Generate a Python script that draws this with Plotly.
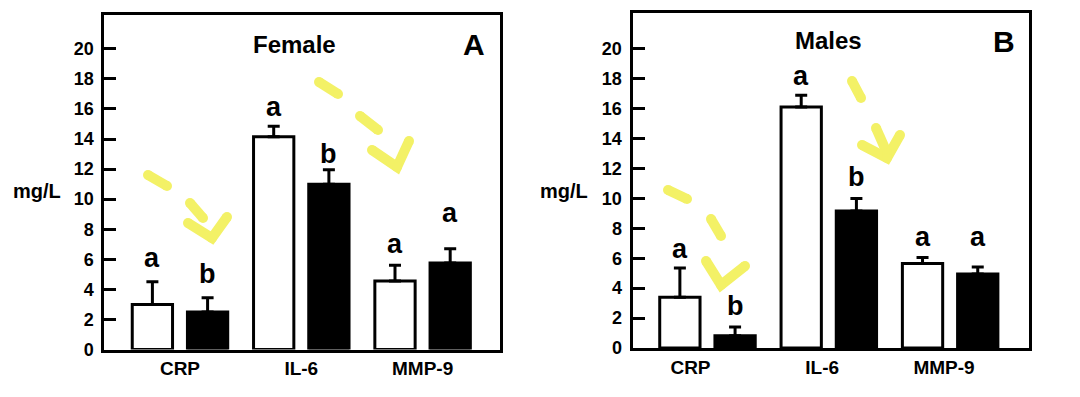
import plotly.graph_objects as go

# ---------------- data ----------------
categories = ["CRP", "IL-6", "MMP-9"]
yticks = list(range(0, 21, 2))

female_white = [3.0, 14.15, 4.55]
female_white_err = [1.5, 0.7, 1.05]
female_black = [2.5, 11.0, 5.75]
female_black_err = [0.95, 0.95, 0.95]
female_letters_white = ["a", "a", "a"]
female_letters_black = ["b", "b", "a"]
female_letter_y_white = [6.1, 16.1, 7.0]
female_letter_y_black = [5.0, 13.0, 9.1]

male_white = [3.4, 16.1, 5.65]
male_white_err = [1.95, 0.8, 0.4]
male_black = [0.82, 9.15, 4.95]
male_black_err = [0.58, 0.85, 0.47]
male_letters_white = ["a", "a", "a"]
male_letters_black = ["b", "b", "a"]
male_letter_y_white = [6.6, 18.2, 7.4]
male_letter_y_black = [2.8, 11.4, 7.4]

# hand-drawn yellow highlight strokes (page pixels)
highlight_strokes = [
    [(148, 175), (167, 186)],
    [(190, 203), (203, 218)],
    [(188, 223), (212, 238), (227, 217)],
    [(319, 82), (338, 94)],
    [(360, 116), (378, 130)],
    [(372, 150), (397, 167), (409, 141)],
    [(668, 190), (687, 199)],
    [(711, 219), (721, 236)],
    [(706, 261), (721, 285), (745, 266)],
    [(852, 81), (861, 98)],
    [(876, 128), (887, 153)],
    [(862, 145), (887, 158), (900, 135)],
]

W, H = 1080, 397          # design coordinates (reference pixels)
FIG_H = 407               # rendered height
FONT = "Liberation Sans, Arial, Helvetica, sans-serif"
BARGAP = 0.09
BARGROUPGAP = 0.27
OFF = (1 - BARGAP) / 4  # centre offset of each bar in a pair

fig = go.Figure()

panels = [
    dict(xa="x", ya="y", white=female_white, werr=female_white_err,
         black=female_black, berr=female_black_err,
         lw=female_letters_white, lb=female_letters_black,
         lyw=female_letter_y_white, lyb=female_letter_y_black),
    dict(xa="x2", ya="y2", white=male_white, werr=male_white_err,
         black=male_black, berr=male_black_err,
         lw=male_letters_white, lb=male_letters_black,
         lyw=male_letter_y_white, lyb=male_letter_y_black),
]

xs = list(range(len(categories)))
annotations = []
for p in panels:
    fig.add_trace(go.Bar(
        x=xs, y=p["white"], xaxis=p["xa"], yaxis=p["ya"],
        marker=dict(color="white", line=dict(color="black", width=3)),
        error_y=dict(type="data", symmetric=False, array=p["werr"],
                     arrayminus=[0] * 3, color="black", thickness=3, width=6),
        showlegend=False, hoverinfo="skip"))
    fig.add_trace(go.Bar(
        x=xs, y=p["black"], xaxis=p["xa"], yaxis=p["ya"],
        marker=dict(color="black", line=dict(color="black", width=3)),
        error_y=dict(type="data", symmetric=False, array=p["berr"],
                     arrayminus=[0] * 3, color="black", thickness=3, width=6),
        showlegend=False, hoverinfo="skip"))
    for i in xs:
        for txt, yy, dx in ((p["lw"][i], p["lyw"][i], -OFF), (p["lb"][i], p["lyb"][i], OFF)):
            annotations.append(dict(
                x=i + dx, y=yy, xref=p["xa"], yref=p["ya"], text=txt,
                showarrow=False, xanchor="center", yanchor="middle",
                font=dict(family=FONT, size=27, color="black", weight="bold")))

# highlight strokes on an invisible full-page overlay axis
sx, sy = [], []
for s in highlight_strokes:
    for (a, b) in s:
        sx.append(a)
        sy.append(b)
    sx.append(None)
    sy.append(None)
fig.add_trace(go.Scatter(
    x=sx, y=sy, xaxis="x3", yaxis="y3", mode="lines+markers",
    line=dict(color="#f3f166", width=10),
    marker=dict(color="#f3f166", size=10),
    showlegend=False, hoverinfo="skip"))


def px_x(v):
    return v / W


def px_y(v):
    return 1 - v / H


# page texts
texts = [
    ("Female", 294, 44, 24),
    ("A", 474, 44, 30),
    ("Males", 828, 40, 24),
    ("B", 1004, 42, 30),
    ("mg/L", 37, 191, 20),
    ("mg/L", 564, 191, 20),
]
for t, x, y, s in texts:
    annotations.append(dict(
        x=px_x(x), y=px_y(y), xref="paper", yref="paper", text=t,
        showarrow=False, xanchor="center", yanchor="middle",
        font=dict(family=FONT, size=s, color="black", weight="bold")))

common_x = dict(
    ticktext=categories, ticks="", showline=True, mirror=True,
    linewidth=3, linecolor="black", showgrid=False, zeroline=False,
    tickfont=dict(family=FONT, size=19, color="black", weight="bold"),
    fixedrange=True)
common_y = dict(
    tickvals=yticks, ticks="inside", ticklen=12, tickwidth=3, tickcolor="black",
    showline=True, mirror=True, linewidth=3, linecolor="black",
    showgrid=False, zeroline=False, ticklabelstandoff=4,
    tickfont=dict(family=FONT, size=18, color="black", weight="bold"),
    fixedrange=True)

# panel B category labels sit slightly left of their bar pairs in the original
label_shift_b = [-0.14, -0.055, -0.05]

fig.update_layout(
    width=W, height=FIG_H, margin=dict(l=0, r=0, t=0, b=0),
    paper_bgcolor="white", plot_bgcolor="rgba(0,0,0,0)",
    barmode="group", bargap=BARGAP, bargroupgap=BARGROUPGAP,
    xaxis=dict(domain=[px_x(104.3), px_x(499.5)], range=[-0.624, 2.634], anchor="y",
               tickvals=xs, **common_x),
    yaxis=dict(domain=[px_y(349.5), px_y(15)], range=[0, 22.25], anchor="x", **common_y),
    xaxis2=dict(domain=[px_x(632.5), px_x(1029)], range=[-0.618, 2.65], anchor="y2",
                tickvals=[i + d for i, d in zip(xs, label_shift_b)], **common_x),
    yaxis2=dict(domain=[px_y(348), px_y(13.3)], range=[0, 22.37], anchor="x2", **common_y),
    xaxis3=dict(domain=[0, 1], range=[0, W], visible=False, anchor="y3", fixedrange=True),
    yaxis3=dict(domain=[0, 1], range=[H, 0], visible=False, anchor="x3", fixedrange=True),
    annotations=annotations,
)

post = (
    "var gd=document.getElementById('{plot_id}');"
    "gd.style.position='fixed';gd.style.top='0px';gd.style.left='0px';"
    "document.body.style.margin='0';"
    "document.documentElement.style.overflow='hidden';"
    "document.body.style.overflow='hidden';"
)

fig.write_html("out.html", config={"displayModeBar": False}, post_script=post)
